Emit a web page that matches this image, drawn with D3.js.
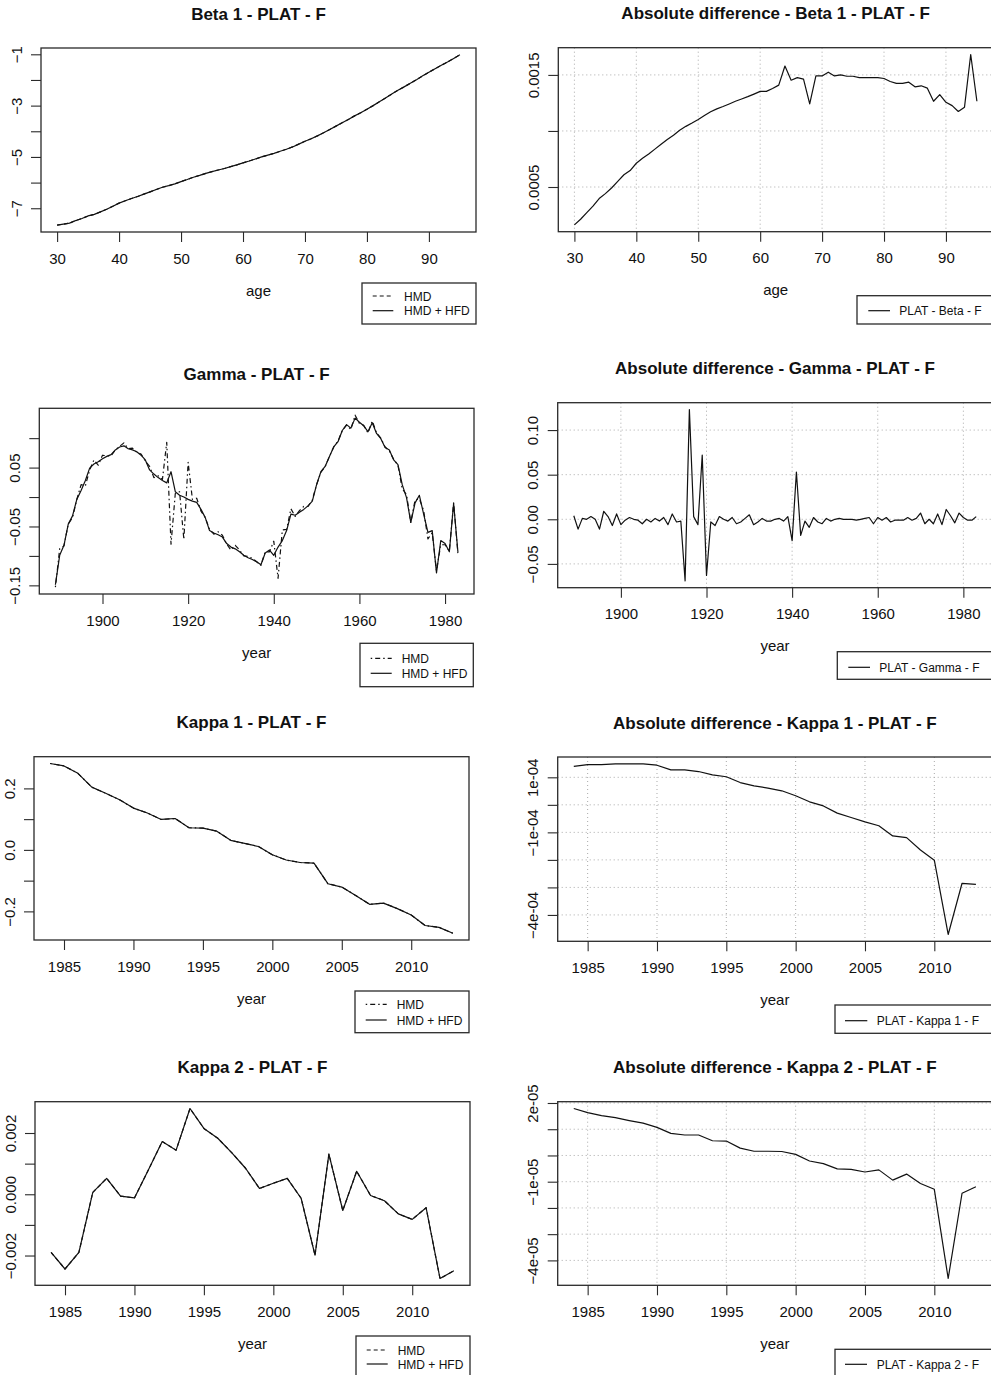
<!DOCTYPE html>
<html><head><meta charset="utf-8">
<script src="https://cdnjs.cloudflare.com/ajax/libs/d3/7.8.5/d3.min.js"></script>
<style>
body{margin:0;background:#fff}
svg{display:block}
text{font-family:"Liberation Sans",Arial,Helvetica,sans-serif;fill:#111}
</style>
</head><body>
<svg id="c" width="991" height="1375"></svg>
<script>
// ---------------- DATA ----------------
const ages = d3.range(30, 96);          // 30..95
const cohorts = d3.range(1889, 1984);   // 1889..1983
const years = d3.range(1984, 2014);     // 1984..2013

// Beta 1 (HMD and HMD + HFD overlap visually)
const beta1 = [-7.66,-7.62,-7.58,-7.48,-7.40,-7.30,-7.24,-7.14,-7.04,-6.92,
  -6.80,-6.71,-6.62,-6.54,-6.45,-6.36,-6.27,-6.18,-6.12,-6.05,
  -5.96,-5.88,-5.79,-5.72,-5.64,-5.57,-5.51,-5.45,-5.38,-5.31,
  -5.23,-5.16,-5.08,-5.00,-4.93,-4.86,-4.78,-4.70,-4.61,-4.50,
  -4.39,-4.29,-4.18,-4.06,-3.93,-3.80,-3.67,-3.54,-3.40,-3.28,
  -3.14,-3.00,-2.85,-2.70,-2.55,-2.40,-2.27,-2.13,-1.99,-1.84,
  -1.70,-1.56,-1.43,-1.30,-1.16,-1.02];
const beta1Diff = [1.62e-4,2.12e-4,2.71e-4,3.29e-4,3.97e-4,4.41e-4,4.91e-4,5.50e-4,6.09e-4,6.47e-4,
  7.12e-4,7.56e-4,7.94e-4,8.38e-4,8.82e-4,9.24e-4,9.62e-4,10.06e-4,10.41e-4,10.71e-4,
  11.03e-4,11.38e-4,11.71e-4,11.97e-4,12.18e-4,12.41e-4,12.65e-4,12.85e-4,13.06e-4,13.29e-4,
  13.53e-4,13.53e-4,13.79e-4,14.09e-4,15.79e-4,14.53e-4,14.76e-4,14.62e-4,12.41e-4,14.91e-4,
  14.91e-4,15.24e-4,14.91e-4,15.00e-4,14.88e-4,14.88e-4,14.76e-4,14.76e-4,14.76e-4,14.76e-4,
  14.68e-4,14.41e-4,14.24e-4,14.24e-4,14.35e-4,13.94e-4,14.03e-4,13.82e-4,12.65e-4,13.24e-4,
  12.56e-4,12.26e-4,11.74e-4,12.12e-4,16.82e-4,12.65e-4];

// Gamma (cohorts 1889..1983)
const gammaHFD = [-0.149,-0.099,-0.082,-0.046,-0.032,-0.004,0.011,0.028,0.049,0.056,
  0.060,0.065,0.069,0.072,0.080,0.085,0.087,0.082,0.080,0.077,
  0.071,0.063,0.046,0.039,0.033,0.028,0.024,0.043,0.009,0.003,
  0.000,-0.004,-0.007,-0.009,-0.021,-0.035,-0.057,-0.061,-0.064,-0.068,
  -0.079,-0.085,-0.088,-0.093,-0.099,-0.103,-0.106,-0.110,-0.115,-0.095,
  -0.090,-0.099,-0.085,-0.074,-0.057,-0.029,-0.031,-0.026,-0.021,-0.015,
  -0.007,0.021,0.043,0.052,0.069,0.085,0.094,0.113,0.123,0.117,
  0.134,0.127,0.121,0.111,0.126,0.108,0.099,0.084,0.080,0.063,
  0.055,0.021,-0.001,-0.043,-0.010,0.003,-0.029,-0.060,-0.057,-0.129,
  -0.074,-0.079,-0.093,-0.011,-0.093];
const gammaHMD = [-0.153,-0.088,-0.083,-0.046,-0.035,-0.004,0.021,0.019,0.046,0.063,
  0.054,0.071,0.070,0.070,0.080,0.086,0.092,0.082,0.083,0.076,
  0.073,0.061,0.052,0.033,0.036,0.030,0.093,-0.080,0.006,0.009,
  -0.072,0.059,-0.004,-0.002,-0.024,-0.035,-0.055,-0.063,-0.059,-0.065,
  -0.080,-0.090,-0.082,-0.090,-0.100,-0.101,-0.104,-0.110,-0.116,-0.093,
  -0.093,-0.075,-0.138,-0.056,-0.055,-0.020,-0.033,-0.023,-0.016,-0.016,
  -0.005,0.021,0.042,0.052,0.069,0.085,0.095,0.113,0.122,0.115,
  0.139,0.125,0.122,0.109,0.129,0.109,0.100,0.085,0.078,0.064,
  0.054,0.014,0.004,-0.043,-0.005,-0.003,-0.023,-0.071,-0.061,-0.125,
  -0.081,-0.081,-0.092,-0.010,-0.096];
const gammaDiff = [0.004,-0.011,0.001,0.000,0.003,0.000,-0.011,0.009,0.003,-0.007,
  0.006,-0.006,-0.001,0.002,0.000,-0.001,-0.005,0.000,-0.003,0.001,
  -0.002,0.002,-0.006,0.006,-0.003,-0.002,-0.069,0.123,0.003,-0.006,
  0.072,-0.063,-0.003,-0.007,0.003,0.000,-0.002,0.002,-0.005,-0.003,
  0.001,0.005,-0.006,-0.003,0.001,-0.002,-0.002,0.000,0.001,-0.002,
  0.003,-0.024,0.053,-0.018,-0.002,-0.009,0.002,-0.003,-0.005,0.001,
  -0.002,0.000,0.001,0.000,0.000,0.000,-0.001,0.000,0.001,0.002,
  -0.005,0.002,-0.001,0.002,-0.003,-0.001,-0.001,-0.001,0.002,-0.001,
  0.001,0.007,-0.005,0.000,-0.005,0.006,-0.006,0.011,0.004,-0.004,
  0.007,0.002,-0.001,-0.001,0.003];

// Kappa 1 (years 1984..2013)
const kappa1 = [0.281,0.273,0.249,0.204,0.184,0.163,0.136,0.120,0.099,0.102,
  0.072,0.071,0.061,0.031,0.021,0.011,-0.016,-0.033,-0.041,-0.043,
  -0.110,-0.121,-0.148,-0.177,-0.173,-0.191,-0.212,-0.246,-0.252,-0.271];
const kappa1Diff = [1.40e-4,1.46e-4,1.46e-4,1.49e-4,1.49e-4,1.49e-4,1.44e-4,1.27e-4,1.27e-4,1.21e-4,
  1.09e-4,1.02e-4,0.81e-4,0.69e-4,0.61e-4,0.51e-4,0.33e-4,0.11e-4,-0.04e-4,-0.30e-4,
  -0.46e-4,-0.62e-4,-0.76e-4,-1.13e-4,-1.19e-4,-1.64e-4,-2.01e-4,-4.71e-4,-2.85e-4,-2.89e-4];

// Kappa 2 (years 1984..2013)
const kappa2 = [-0.00190,-0.00244,-0.00190,0.00006,0.00052,-0.00006,-0.00012,0.00079,0.00172,0.00144,
  0.00280,0.00215,0.00183,0.00136,0.00085,0.00019,0.00036,0.00052,-0.00013,-0.00199,
  0.00131,-0.00053,0.00075,-0.00004,-0.00021,-0.00064,-0.00082,-0.00044,-0.00275,-0.00250];
const kappa2Diff = [1.79e-5,1.63e-5,1.52e-5,1.44e-5,1.33e-5,1.23e-5,1.07e-5,0.84e-5,0.78e-5,0.78e-5,
  0.56e-5,0.55e-5,0.28e-5,0.16e-5,0.16e-5,0.15e-5,0.04e-5,-0.21e-5,-0.31e-5,-0.51e-5,
  -0.53e-5,-0.63e-5,-0.55e-5,-0.94e-5,-0.71e-5,-1.07e-5,-1.29e-5,-4.69e-5,-1.44e-5,-1.19e-5];

// Tick values and labels
const ageTicks = [30,40,50,60,70,80,90];
const ageTickLabels = ["30","40","50","60","70","80","90"];
const cohortTicks = [1900,1920,1940,1960,1980];
const cohortTickLabels = ["1900","1920","1940","1960","1980"];
const yearTicks = [1985,1990,1995,2000,2005,2010];
const yearTickLabels = ["1985","1990","1995","2000","2005","2010"];

const beta1YTicks = [-7,-6,-5,-4,-3,-2,-1];
const beta1YLabels = ["\u22127","","\u22125","","\u22123","","\u22121"];
const beta1DiffYTicks = [0.0005,0.0010,0.0015];
const beta1DiffYLabels = ["0.0005","","0.0015"];
const gammaYTicks = [-0.15,-0.10,-0.05,0.00,0.05,0.10];
const gammaYLabels = ["\u22120.15","","\u22120.05","","0.05",""];
const gammaDiffYTicks = [-0.05,0.00,0.05,0.10];
const gammaDiffYLabels = ["\u22120.05","0.00","0.05","0.10"];
const kappa1YTicks = [-0.2,-0.1,0.0,0.1,0.2];
const kappa1YLabels = ["\u22120.2","","0.0","","0.2"];
const kappa1DiffYTicks = [-4e-4,-3e-4,-2e-4,-1e-4,0,1e-4];
const kappa1DiffYLabels = ["\u22124e-04","","","\u22121e-04","","1e-04"];
const kappa2YTicks = [-0.002,-0.001,0.000,0.001,0.002];
const kappa2YLabels = ["\u22120.002","","0.000","","0.002"];
const kappa2DiffYTicks = [-4e-5,-3e-5,-2e-5,-1e-5,0,1e-5,2e-5];
const kappa2DiffYLabels = ["\u22124e-05","","","\u22121e-05","","","2e-05"];

const titles = ["Beta 1 - PLAT - F","Absolute difference - Beta 1 - PLAT - F",
  "Gamma - PLAT - F","Absolute difference - Gamma - PLAT - F",
  "Kappa 1 - PLAT - F","Absolute difference - Kappa 1 - PLAT - F",
  "Kappa 2 - PLAT - F","Absolute difference - Kappa 2 - PLAT - F"];
const legendHMD = ["HMD","HMD + HFD"];
const legendDiff = ["PLAT - Beta - F","PLAT - Gamma - F","PLAT - Kappa 1 - F","PLAT - Kappa 2 - F"];

// ---------------- STYLE / LAYOUT ----------------
const DASHED = "4,3", DOTDASH = "1.5,3,5,3";
const panels = [
  {title:titles[0], xs:ages, xlab:"age", box:[41,48,476,232], xt:ageTicks, xl:ageTickLabels, yt:beta1YTicks, yl:beta1YLabels,
   series:[{v:beta1, dash:DASHED},{v:beta1}], grid:false,
   legend:{box:[362,283,114,41], lx:[372.7,393.3], rows:[296,310.7], tx:404, items:[{t:legendHMD[0],dash:DASHED},{t:legendHMD[1]}]}},
  {title:titles[1], xs:ages, xlab:"age", box:[558.3,47.7,993,231.7], xt:ageTicks, xl:ageTickLabels, yt:beta1DiffYTicks, yl:beta1DiffYLabels,
   series:[{v:beta1Diff}], grid:true,
   legend:{box:[857,295.7,140,28.3], lx:[868.3,890], rows:[310.7], tx:899.3, items:[{t:legendDiff[0]}]}},
  {title:titles[2], xs:cohorts, xlab:"year", box:[39.3,408.3,474,594], xt:cohortTicks, xl:cohortTickLabels, yt:gammaYTicks, yl:gammaYLabels,
   series:[{v:gammaHMD, dash:DOTDASH},{v:gammaHFD}], grid:false,
   legend:{box:[360,643.3,113.3,43.4], lx:[370.7,391.7], rows:[658.3,673.3], tx:401.7, items:[{t:legendHMD[0],dash:DOTDASH},{t:legendHMD[1]}]}},
  {title:titles[3], xs:cohorts, xlab:"year", box:[557.7,402.7,992.3,587.7], xt:cohortTicks, xl:cohortTickLabels, yt:gammaDiffYTicks, yl:gammaDiffYLabels,
   series:[{v:gammaDiff}], grid:true,
   legend:{box:[837.3,651.7,160,27.6], lx:[848.3,870], rows:[667.3], tx:879.3, items:[{t:legendDiff[1]}]}},
  {title:titles[4], xs:years, xlab:"year", box:[34,756.7,469,940], xt:yearTicks, xl:yearTickLabels, yt:kappa1YTicks, yl:kappa1YLabels,
   series:[{v:kappa1, dash:DOTDASH},{v:kappa1}], grid:false,
   legend:{box:[355,991,114,41.7], lx:[365.7,386.7], rows:[1004.3,1020], tx:396.7, items:[{t:legendHMD[0],dash:DOTDASH},{t:legendHMD[1]}]}},
  {title:titles[5], xs:years, xlab:"year", box:[557.7,757,992,941.3], xt:yearTicks, xl:yearTickLabels, yt:kappa1DiffYTicks, yl:kappa1DiffYLabels,
   series:[{v:kappa1Diff}], grid:true,
   legend:{box:[835,1005,160,28.3], lx:[845,867.3], rows:[1020.7], tx:876.7, items:[{t:legendDiff[2]}]}},
  {title:titles[6], xs:years, xlab:"year", box:[35,1101.7,470,1285.3], xt:yearTicks, xl:yearTickLabels, yt:kappa2YTicks, yl:kappa2YLabels,
   series:[{v:kappa2, dash:DASHED},{v:kappa2}], grid:false,
   legend:{box:[356,1336,114,45], lx:[366.7,387.7], rows:[1350,1364], tx:397.7, items:[{t:legendHMD[0],dash:DASHED},{t:legendHMD[1]}]}},
  {title:titles[7], xs:years, xlab:"year", box:[557.7,1101.7,992,1285.3], xt:yearTicks, xl:yearTickLabels, yt:kappa2DiffYTicks, yl:kappa2DiffYLabels,
   series:[{v:kappa2Diff}], grid:true,
   legend:{box:[835,1349.3,160,40], lx:[845,867], rows:[1364.3], tx:876.7, items:[{t:legendDiff[3]}]}}
];

const svg = d3.select("#c");
const LINE = "#111", BOX = "#2a2a2a", GRID = "#a9a9a9";

function padDomain(ext){ const r = ext[1]-ext[0]; return [ext[0]-0.04*r, ext[1]+0.04*r]; }

panels.forEach(p => {
  const [L,T,R,B] = p.box;
  const allY = p.series.flatMap(s => s.v);
  const x = d3.scaleLinear().domain(padDomain(d3.extent(p.xs))).range([L,R]);
  const y = d3.scaleLinear().domain(padDomain(d3.extent(allY))).range([B,T]);
  const g = svg.append("g");

  if (p.grid) {
    g.selectAll(".gx").data(p.xt).join("line")
      .attr("x1", d=>x(d)).attr("x2", d=>x(d)).attr("y1", T).attr("y2", B)
      .attr("stroke", GRID).attr("stroke-width", 1).attr("stroke-dasharray", "1,3");
    g.selectAll(".gy").data(p.yt).join("line")
      .attr("x1", L).attr("x2", R).attr("y1", d=>y(d)).attr("y2", d=>y(d))
      .attr("stroke", GRID).attr("stroke-width", 1).attr("stroke-dasharray", "1,3");
  }

  p.series.forEach(s => {
    const line = d3.line().x((d,i)=>x(p.xs[i])).y(d=>y(d));
    g.append("path").datum(s.v).attr("d", line).attr("fill","none")
      .attr("stroke", LINE).attr("stroke-width", 1.2)
      .attr("stroke-linejoin","round")
      .attr("stroke-dasharray", s.dash || null);
  });

  g.append("rect").attr("x",L).attr("y",T).attr("width",R-L).attr("height",B-T)
    .attr("fill","none").attr("stroke",BOX).attr("stroke-width",1.3);

  // x axis
  const ax = g.append("g").attr("transform",`translate(0,${B})`)
    .call(d3.axisBottom(x).tickValues(p.xt).tickSize(10).tickPadding(11)
      .tickFormat((d,i)=>p.xl[i]));
  ax.select(".domain").remove();
  ax.selectAll("line").attr("stroke",BOX).attr("stroke-width",1.1);
  ax.selectAll("text").attr("font-size",15).attr("fill","#111")
    .attr("font-family",'"Liberation Sans",Arial,sans-serif');

  // y axis
  const ay = g.append("g").attr("transform",`translate(${L},0)`)
    .call(d3.axisLeft(y).tickValues(p.yt).tickSize(10).tickFormat((d,i)=>p.yl[i]));
  ay.select(".domain").remove();
  ay.selectAll("line").attr("stroke",BOX).attr("stroke-width",1.1);
  ay.selectAll("text").attr("font-size",15).attr("fill","#111")
    .attr("font-family",'"Liberation Sans",Arial,sans-serif')
    .attr("x",0).attr("y",0).attr("dy",0).attr("text-anchor","middle")
    .attr("transform","translate(-19.5,0) rotate(-90)");

  // titles
  g.append("text").attr("x",(L+R)/2).attr("y",T-28.5).attr("text-anchor","middle")
    .attr("font-size",17).attr("font-weight","bold").text(p.title);
  g.append("text").attr("x",(L+R)/2).attr("y",B+63.5).attr("text-anchor","middle")
    .attr("font-size",15).text(p.xlab);

  // legend
  const lg = p.legend;
  g.append("rect").attr("x",lg.box[0]).attr("y",lg.box[1]).attr("width",lg.box[2]).attr("height",lg.box[3])
    .attr("fill","#fff").attr("stroke",BOX).attr("stroke-width",1.3);
  lg.items.forEach((it,i) => {
    g.append("line").attr("x1",lg.lx[0]).attr("x2",lg.lx[1]).attr("y1",lg.rows[i]).attr("y2",lg.rows[i])
      .attr("stroke",LINE).attr("stroke-width",1.2).attr("stroke-dasharray", it.dash || null);
    g.append("text").attr("x",lg.tx).attr("y",lg.rows[i]+4.5).attr("font-size",12).text(it.t);
  });
});
</script>
</body></html>
